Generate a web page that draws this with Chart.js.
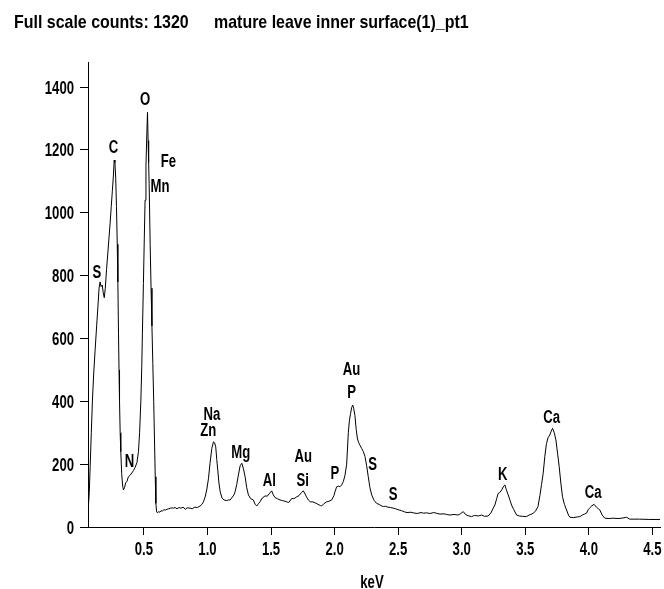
<!DOCTYPE html>
<html>
<head>
<meta charset="utf-8">
<script src="https://cdn.jsdelivr.net/npm/chart.js@4.4.1/dist/chart.umd.min.js"></script>
<style>
  html, body { margin: 0; padding: 0; background: #fff; }
  #wrap { width: 664px; height: 589px; }
</style>
</head>
<body>
<div id="wrap"><canvas id="c" width="664" height="589"></canvas></div>
<script>
// ---- Data ----
const energyKeV = [
  0.062,0.070,0.077,0.086,0.095,0.105,0.116,0.128,0.138,0.147,0.155,0.163,0.172,0.180,0.188,0.196,
  0.206,0.216,0.225,0.234,0.243,0.252,0.260,0.266,0.272,0.278,0.284,0.290,0.295,0.300,0.304,0.308,
  0.313,0.318,0.325,0.333,0.339,0.347,0.356,0.366,0.378,0.392,0.405,0.418,0.431,0.445,0.457,0.466,
  0.476,0.483,0.488,0.496,0.503,0.509,0.516,0.523,0.528,0.533,0.537,0.541,0.549,0.556,0.563,0.570,
  0.577,0.583,0.589,0.594,0.600,0.607,0.615,0.625,0.635,0.645,0.655,0.668,0.680,0.695,0.710,0.720,
  0.732,0.745,0.760,0.775,0.790,0.810,0.825,0.840,0.863,0.880,0.900,0.920,0.942,0.956,0.968,0.981,
  0.994,1.008,1.020,1.034,1.047,1.056,1.065,1.073,1.081,1.090,1.100,1.115,1.130,1.150,1.165,1.178,
  1.195,1.208,1.217,1.230,1.243,1.257,1.270,1.283,1.296,1.309,1.322,1.340,1.361,1.375,1.388,1.400,
  1.413,1.430,1.453,1.470,1.490,1.505,1.518,1.531,1.550,1.571,1.590,1.610,1.623,1.640,1.663,1.680,
  1.702,1.720,1.740,1.754,1.768,1.780,1.793,1.810,1.830,1.846,1.870,1.890,1.899,1.915,1.938,1.955,
  1.977,1.995,2.003,2.016,2.029,2.042,2.056,2.069,2.082,2.095,2.108,2.117,2.126,2.134,2.142,2.150,
  2.160,2.170,2.180,2.190,2.200,2.213,2.226,2.239,2.252,2.265,2.278,2.292,2.310,2.331,2.350,2.365,
  2.383,2.400,2.420,2.440,2.461,2.480,2.500,2.527,2.550,2.570,2.600,2.619,2.650,2.680,2.700,2.724,
  2.750,2.780,2.800,2.829,2.860,2.880,2.907,2.940,2.970,2.990,3.012,3.030,3.050,3.078,3.100,3.130,
  3.156,3.180,3.208,3.230,3.248,3.261,3.275,3.287,3.300,3.315,3.330,3.340,3.350,3.366,3.380,3.392,
  3.410,3.432,3.455,3.480,3.510,3.530,3.545,3.562,3.580,3.600,3.615,3.628,3.641,3.654,3.667,3.680,
  3.693,3.704,3.715,3.728,3.741,3.754,3.767,3.780,3.793,3.808,3.825,3.840,3.851,3.880,3.910,3.929,
  3.950,3.965,3.982,3.995,4.010,4.025,4.042,4.060,4.075,4.087,4.105,4.126,4.160,4.191,4.230,4.260,
  4.296,4.322,4.400,4.480,4.560
];
const counts = [
  60,110,192,300,404,490,563,640,701,760,780,765,770,745,730,760,
  820,872,920,967,1020,1072,1120,1168,1160,1110,1020,900,780,617,500,400,
  300,240,170,130,118,125,140,145,160,165,172,180,190,205,240,300,
  404,510,617,775,920,1040,1150,1253,1320,1230,1160,1094,900,760,640,520,
  400,280,160,75,48,45,49,47,52,50,55,54,56,58,60,61,
  60,62,58,62,60,63,56,61,60,58,63,62,67,72,80,95,
  118,155,203,250,271,268,255,215,181,140,112,92,86,84,86,86,
  95,102,112,135,165,195,203,185,160,125,102,90,86,72,67,74,
  80,92,99,98,108,115,102,94,90,86,84,82,80,78,91,90,
  96,100,110,115,105,95,86,80,80,77,72,68,67,74,80,82,
  86,100,112,128,130,128,134,145,165,200,300,340,362,380,388,378,
  355,310,280,268,260,250,240,225,195,160,125,102,85,75,72,68,
  65,66,63,62,60,58,55,52,48,46,47,45,43,46,44,45,
  43,46,44,41,42,40,38,40,38,42,49,40,36,33,37,35,
  38,34,35,45,60,70,90,107,110,118,130,134,120,102,85,70,
  55,38,35,34,33,38,40,44,50,65,100,135,171,225,266,285,
  293,305,314,300,277,235,192,140,96,72,54,38,31,30,32,33,
  38,41,44,55,62,68,72,63,58,54,38,28,27,28,27,28,
  31,25,25,24,24
];
const xTickValues = [0.5, 1.0, 1.5, 2.0, 2.5, 3.0, 3.5, 4.0, 4.5];
const yTickValues = [0, 200, 400, 600, 800, 1000, 1200, 1400];

// Peak labels (anchored in data coordinates: keV, counts)
const peakLabels = ['S','C','O','Fe','Mn','N','Na','Zn','Mg','Al','Au','Si','P','Au','P','S','S','K','Ca','Ca'];
const peakLabelKeV = [0.130,0.260,0.509,0.693,0.627,0.386,1.034,1.007,1.262,1.487,1.754,1.749,2.003,2.134,2.134,2.300,2.461,3.322,3.707,4.034];
const peakLabelCounts = [812,1210,1365,1168,1088,213,362,309,240,150,229,150,173,505,430,203,107,171,353,112];

const titleLeft = 'Full scale counts: 1320';
const titleRight = 'mature leave inner surface(1)_pt1';
const xAxisTitle = 'keV';

const FONT = "bold 18px 'Liberation Sans', Arial, sans-serif";
const TITLE_FONT = "bold 19px 'Liberation Sans', Arial, sans-serif";
const SQUEEZE = 0.73;       // condensed (narrow) typeface look
const TITLE_SQUEEZE = 0.84;

const spectrum = energyKeV.map((e, i) => ({ x: e, y: counts[i] }));

function narrowText(ctx, text, x, y, align, sq) {
  ctx.save();
  ctx.translate(x, y);
  ctx.scale(sq || SQUEEZE, 1);
  ctx.textAlign = align;
  ctx.textBaseline = 'alphabetic';
  ctx.fillText(text, 0, 0);
  ctx.restore();
}

const textPlugin = {
  id: 'narrowTexts',
  afterDraw(chart) {
    const ctx = chart.ctx;
    const xs = chart.scales.x, ys = chart.scales.y;
    const area = chart.chartArea;
    ctx.save();
    ctx.fillStyle = '#000';
    ctx.font = FONT;
    // axis tick labels, positioned by the library's scales
    ys.ticks.forEach(t => {
      narrowText(ctx, String(t.value), area.left - 14, ys.getPixelForValue(t.value) + 6.5, 'right');
    });
    xs.ticks.forEach(t => {
      narrowText(ctx, t.value.toFixed(1), xs.getPixelForValue(t.value), area.bottom + 28, 'center');
    });
    // axis title
    narrowText(ctx, xAxisTitle, (area.left + area.right) / 2 - 2, area.bottom + 61, 'center');
    // peak labels
    peakLabels.forEach((t, i) => {
      narrowText(ctx, t, xs.getPixelForValue(peakLabelKeV[i]), ys.getPixelForValue(peakLabelCounts[i]) + 6.5, 'center');
    });
    // header line
    ctx.font = TITLE_FONT;
    narrowText(ctx, titleLeft, 14, 28, 'left', TITLE_SQUEEZE);
    narrowText(ctx, titleRight, 214, 28, 'left', TITLE_SQUEEZE);
    ctx.restore();
  }
};

new Chart(document.getElementById('c'), {
  type: 'line',
  data: {
    datasets: [{
      data: spectrum,
      borderColor: '#000',
      borderWidth: 1,
      pointRadius: 0,
      tension: 0,
      fill: false
    }]
  },
  options: {
    responsive: false,
    devicePixelRatio: 1,
    animation: false,
    layout: { padding: { top: 62, right: 4, left: 0, bottom: 0 } },
    plugins: { legend: { display: false }, tooltip: { enabled: false } },
    scales: {
      x: {
        type: 'linear',
        min: 0.06,
        max: 4.56,
        afterBuildTicks: s => { s.ticks = xTickValues.map(v => ({ value: v })); },
        afterFit: s => { s.height = 62; },
        ticks: { display: false },
        grid: { display: true, drawOnChartArea: false, drawTicks: true, tickLength: 8, color: '#000', lineWidth: 1 },
        border: { display: true, color: '#000', width: 1 }
      },
      y: {
        type: 'linear',
        min: 0,
        max: 1480,
        afterBuildTicks: s => { s.ticks = yTickValues.map(v => ({ value: v })); },
        afterFit: s => { s.width = 88; },
        ticks: { display: false },
        grid: { display: true, drawOnChartArea: false, drawTicks: true, tickLength: 8, color: '#000', lineWidth: 1 },
        border: { display: true, color: '#000', width: 1 }
      }
    }
  },
  plugins: [textPlugin]
});
</script>
</body>
</html>
